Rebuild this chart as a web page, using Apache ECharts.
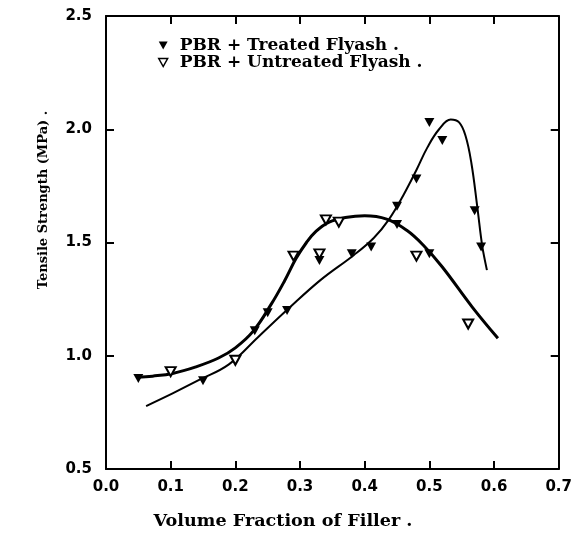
<!DOCTYPE html>
<html>
<head>
<meta charset="utf-8">
<title>Tensile Strength vs Volume Fraction</title>
<script src="https://cdn.jsdelivr.net/npm/echarts@6/dist/echarts.min.js"></script>
<style>
  html, body { margin: 0; padding: 0; background: #fff; }
  #chart { width: 575px; height: 535px; }
</style>
</head>
<body>
<div id="chart"></div>
<script>
// measured points, [volume fraction, tensile strength MPa]
var treatedPoints = [
  [0.05, 0.90], [0.15, 0.89], [0.23, 1.11], [0.25, 1.19], [0.28, 1.20],
  [0.33, 1.42], [0.38, 1.45], [0.41, 1.48], [0.45, 1.58], [0.45, 1.66],
  [0.48, 1.78], [0.50, 1.45], [0.50, 2.03], [0.52, 1.95], [0.57, 1.64],
  [0.58, 1.48]
];
var untreatedPoints = [
  [0.10, 0.93], [0.20, 0.98], [0.29, 1.44], [0.33, 1.45], [0.34, 1.60],
  [0.36, 1.59], [0.48, 1.44], [0.56, 1.14]
];

// fitted curves
var treatedCurve = [
  [0.062, 0.778], [0.103, 0.834], [0.144, 0.893], [0.19, 0.962], [0.235, 1.082],
  [0.281, 1.205], [0.332, 1.335], [0.383, 1.444], [0.414, 1.52], [0.437, 1.60],
  [0.46, 1.71], [0.48, 1.82], [0.497, 1.92], [0.515, 2.0], [0.533, 2.043],
  [0.546, 2.03], [0.556, 1.97], [0.565, 1.85], [0.574, 1.66], [0.582, 1.48],
  [0.589, 1.378]
];
var untreatedCurve = [
  [0.049, 0.905], [0.072, 0.91], [0.103, 0.922], [0.139, 0.951], [0.174, 0.99],
  [0.2, 1.035], [0.228, 1.11], [0.256, 1.23], [0.276, 1.33], [0.294, 1.43],
  [0.31, 1.50], [0.325, 1.55], [0.345, 1.59], [0.37, 1.61], [0.40, 1.618],
  [0.434, 1.603], [0.465, 1.554], [0.49, 1.49], [0.52, 1.392], [0.566, 1.216],
  [0.606, 1.077]
];

var seriesNames = ['PBR + Treated Flyash .', 'PBR + Untreated Flyash .'];
var xTitle = 'Volume Fraction of Filler .';
var yTitle = 'Tensile Strength (MPa) .';

var downTri = 'path://M0,0L10,0L5,9Z';
var labelFont = 'DejaVu Sans';
var titleFont = 'DejaVu Serif';

var myChart = echarts.init(document.getElementById('chart'));

// shared axis look: black frame, inward ticks
function frameAxis(extra) {
  var base = {
    axisLine: { show: true, onZero: false, lineStyle: { color: '#000', width: 2 } },
    axisTick: { show: true, inside: true, length: 8, lineStyle: { color: '#000', width: 2 } },
    splitLine: { show: false }
  };
  return Object.assign(base, extra);
}

var option = {
  backgroundColor: '#fff',
  animation: false,
  grid: { left: 106, right: 11, top: 16, bottom: 66, containLabel: false },
  legend: {
    data: [
      { name: seriesNames[0], icon: downTri, itemStyle: { color: '#000' } },
      { name: seriesNames[1], icon: downTri, itemStyle: { color: '#fff', borderColor: '#000', borderWidth: 1.5 } }
    ],
    orient: 'vertical',
    left: 153,
    top: 32,
    itemWidth: 9,
    itemHeight: 8,
    itemGap: 0,
    textStyle: { fontFamily: titleFont, fontWeight: 'bold', fontSize: 17, color: '#000', padding: [0, 0, 0, 7] }
  },
  xAxis: [
    frameAxis({
      type: 'value', min: 0, max: 0.7, interval: 0.1, position: 'bottom',
      axisLabel: {
        margin: 11, color: '#000', fontFamily: labelFont, fontWeight: 'bold', fontSize: 15,
        formatter: function (v) { return v.toFixed(1); }
      }
    }),
    frameAxis({
      type: 'value', min: 0, max: 0.7, interval: 0.1, position: 'top',
      axisLabel: { show: false }
    })
  ],
  yAxis: [
    frameAxis({
      type: 'value', min: 0.5, max: 2.5, interval: 0.5, position: 'left',
      axisLabel: {
        margin: 14, color: '#000', fontFamily: labelFont, fontWeight: 'bold', fontSize: 15,
        formatter: function (v) { return v.toFixed(1); }
      }
    }),
    frameAxis({
      type: 'value', min: 0.5, max: 2.5, interval: 0.5, position: 'right',
      axisLabel: { show: false }
    })
  ],
  graphic: [
    {
      type: 'text', x: 283, y: 522, scaleX: 1.1,
      style: { text: xTitle, fill: '#000', font: 'bold 16px "DejaVu Serif"', align: 'center', verticalAlign: 'middle' }
    },
    {
      type: 'text', x: 44, y: 200, rotation: Math.PI / 2,
      style: { text: yTitle, fill: '#000', font: 'bold 13px "DejaVu Serif"', align: 'center', verticalAlign: 'middle' }
    }
  ],
  series: [
    {
      name: 'treated fit', type: 'line', data: treatedCurve, smooth: 0.4,
      showSymbol: false, silent: true,
      lineStyle: { color: '#000', width: 2 }
    },
    {
      name: 'untreated fit', type: 'line', data: untreatedCurve, smooth: 0.4,
      showSymbol: false, silent: true,
      lineStyle: { color: '#000', width: 3 }
    },
    {
      name: seriesNames[0], type: 'scatter', data: treatedPoints, z: 4,
      symbol: downTri, symbolSize: [10, 9],
      itemStyle: { color: '#000', opacity: 1 }
    },
    {
      name: seriesNames[1], type: 'scatter', data: untreatedPoints, z: 4,
      symbol: downTri, symbolSize: [10, 9],
      itemStyle: { color: '#fff', borderColor: '#000', borderWidth: 2, opacity: 1 }
    }
  ]
};

myChart.setOption(option);
</script>
</body>
</html>
